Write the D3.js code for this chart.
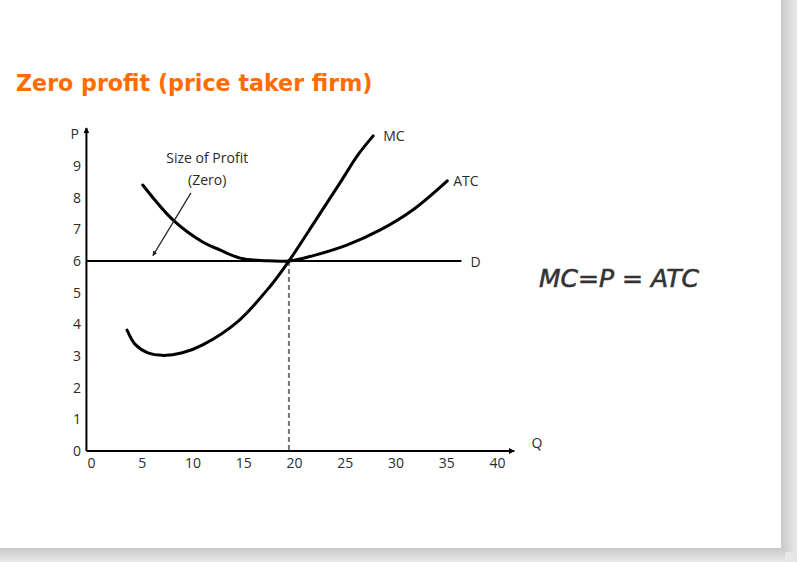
<!DOCTYPE html>
<html>
<head>
<meta charset="utf-8">
<script src="https://cdn.jsdelivr.net/npm/d3@7"></script>
<style>
  body { margin: 0; padding: 0; background: #fff; }
  svg { display: block; }
</style>
</head>
<body>
<div id="chart"></div>
<script>
// chart values
var xTicks = [0, 5, 10, 15, 20, 25, 30, 35, 40];
var yTicks = [0, 1, 2, 3, 4, 5, 6, 7, 8, 9];

var mcQ = [3.55, 4.4, 5.6, 7.0, 9.0, 11.0, 14.4, 17.6, 19.5, 22.0, 24.5, 26.3, 27.8];
var mcP = [3.82, 3.35, 3.1, 3.02, 3.1, 3.35, 4.07, 5.18, 6.0, 7.22, 8.45, 9.35, 9.95];

var atcQ = [5.1, 8.1, 11.0, 12.7, 14.7, 17.1, 19.5, 21.9, 25.2, 28.5, 31.7, 35.1];
var atcP = [8.4, 7.29, 6.6, 6.35, 6.09, 6.01, 6.0, 6.17, 6.5, 6.98, 7.61, 8.53];

var price = 6;
var demandQ = [0, 36.5];
var qStar = 19.5;

var profitText = ['Size of Profit', '(Zero)'];

var width = 797,
    height = 562;

var svg = d3.select('#chart').append('svg')
    .attr('width', width)
    .attr('height', height);

//slide background + shadow
var defs = svg.append('defs');
var gR = defs.append('linearGradient').attr('id', 'shadowR');
gR.append('stop').attr('offset', '0%').attr('stop-color', '#c9c9c9');
gR.append('stop').attr('offset', '100%').attr('stop-color', '#e8e8e8');
var gB = defs.append('linearGradient').attr('id', 'shadowB')
    .attr('x1', 0).attr('y1', 0).attr('x2', 0).attr('y2', 1);
gB.append('stop').attr('offset', '0%').attr('stop-color', '#c9c9c9');
gB.append('stop').attr('offset', '100%').attr('stop-color', '#e8e8e8');

svg.append('rect').attr('width', width).attr('height', height).attr('fill', '#e6e6e6');
svg.append('rect').attr('x', 781).attr('y', 0).attr('width', 16).attr('height', 552).attr('fill', 'url(#shadowR)');
svg.append('rect').attr('x', 0).attr('y', 548).attr('width', 785).attr('height', 14).attr('fill', 'url(#shadowB)');
svg.append('rect').attr('width', 781).attr('height', 548).attr('fill', '#fff');

//title
svg.append('text')
    .attr('x', 16)
    .attr('y', 91)
    .style('font-family', '"DejaVu Sans", Verdana, sans-serif')
    .style('font-weight', 'bold')
    .style('font-size', '22.2px')
    .attr('fill', '#ff6d00')
    .text('Zero profit (price taker firm)');

//scales
var x = d3.scaleLinear().domain([0, 40]).range([91, 497]);
var y = d3.scaleLinear().domain([0, 10]).range([451, 134.3]);

//arrow heads
defs.append('marker')
    .attr('id', 'arrow')
    .attr('viewBox', '0 0 10 10')
    .attr('refX', 9).attr('refY', 5)
    .attr('markerWidth', 6).attr('markerHeight', 6)
    .attr('markerUnits', 'userSpaceOnUse')
    .attr('orient', 'auto')
  .append('path')
    .attr('d', 'M0,0 L10,5 L0,10 z')
    .attr('fill', '#000');

defs.append('marker')
    .attr('id', 'arrowSmall')
    .attr('viewBox', '0 0 10 10')
    .attr('refX', 9).attr('refY', 5)
    .attr('markerWidth', 5).attr('markerHeight', 5)
    .attr('markerUnits', 'userSpaceOnUse')
    .attr('orient', 'auto')
  .append('path')
    .attr('d', 'M0,0 L10,5 L0,10 z')
    .attr('fill', '#222');

var tickFont = '"Open Sans", "Noto Sans", sans-serif';

//x axis
var xAxis = svg.append('g')
    .attr('transform', 'translate(0,' + (y(0) + 3) + ')')
    .call(d3.axisBottom(x).tickValues(xTicks).tickSize(0).tickPadding(4));
xAxis.select('.domain').remove();
xAxis.selectAll('text')
    .style('font-family', tickFont)
    .style('font-size', '14px')
    .attr('fill', '#2b2b2b');

//y axis
var yAxis = svg.append('g')
    .attr('transform', 'translate(81,0)')
    .call(d3.axisLeft(y).tickValues(yTicks).tickSize(0).tickPadding(0));
yAxis.select('.domain').remove();
yAxis.selectAll('text')
    .style('font-family', tickFont)
    .style('font-size', '14px')
    .attr('fill', '#2b2b2b');

//axis lines
svg.append('line')
    .attr('x1', x(-0.45)).attr('y1', y(0))
    .attr('x2', x(41.7)).attr('y2', y(0))
    .attr('stroke', '#000').attr('stroke-width', 2)
    .attr('marker-end', 'url(#arrow)');

svg.append('line')
    .attr('x1', x(-0.45)).attr('y1', y(0))
    .attr('x2', x(-0.45)).attr('y2', y(10.2))
    .attr('stroke', '#000').attr('stroke-width', 2)
    .attr('marker-end', 'url(#arrow)');

svg.append('text')
    .attr('x', x(-1.2)).attr('y', y(10) + 5)
    .attr('text-anchor', 'end')
    .style('font-family', tickFont).style('font-size', '14px')
    .attr('fill', '#2b2b2b')
    .text('P');

svg.append('text')
    .attr('x', x(43.4)).attr('y', y(0.1))
    .style('font-family', tickFont).style('font-size', '14px')
    .attr('fill', '#2b2b2b')
    .text('Q');

//dashed drop line
svg.append('line')
    .attr('x1', x(qStar)).attr('y1', y(price))
    .attr('x2', x(qStar)).attr('y2', y(0))
    .attr('stroke', '#777').attr('stroke-width', 2)
    .attr('stroke-dasharray', '5,3');

//demand (price) line
svg.append('line')
    .attr('x1', x(-0.45)).attr('y1', y(price))
    .attr('x2', x(demandQ[1])).attr('y2', y(price))
    .attr('stroke', '#000').attr('stroke-width', 2);

var line = d3.line()
    .x(function(d) { return x(d[0]); })
    .y(function(d) { return y(d[1]); })
    .curve(d3.curveCatmullRom.alpha(0.5));

var mcData = mcQ.map(function(q, i) { return [q, mcP[i]]; });
var atcData = atcQ.map(function(q, i) { return [q, atcP[i]]; });

svg.append('path')
    .datum(atcData)
    .attr('d', line)
    .attr('fill', 'none')
    .attr('stroke', '#000')
    .attr('stroke-width', 3)
    .attr('stroke-linecap', 'round');

svg.append('path')
    .datum(mcData)
    .attr('d', line)
    .attr('fill', 'none')
    .attr('stroke', '#000')
    .attr('stroke-width', 3)
    .attr('stroke-linecap', 'round');

//curve labels
var labelStyle = function(sel) {
    sel.style('font-family', tickFont).style('font-size', '14px').attr('fill', '#2b2b2b');
};

svg.append('text')
    .attr('x', x(mcQ[mcQ.length - 1]) + 10)
    .attr('y', y(mcP[mcP.length - 1]) + 5)
    .call(labelStyle)
    .text('MC');

svg.append('text')
    .attr('x', x(atcQ[atcQ.length - 1]) + 6)
    .attr('y', y(atcP[atcP.length - 1]) + 5)
    .call(labelStyle)
    .text('ATC');

svg.append('text')
    .attr('x', x(demandQ[1]) + 9)
    .attr('y', y(price) + 6)
    .call(labelStyle)
    .text('D');

//profit annotation
svg.append('line')
    .attr('x1', x(9.85)).attr('y1', y(8.15))
    .attr('x2', x(6.1)).attr('y2', y(6.17))
    .attr('stroke', '#222').attr('stroke-width', 1.2)
    .attr('marker-end', 'url(#arrowSmall)');

svg.selectAll('.profit-label')
    .data(profitText)
  .enter().append('text')
    .attr('class', 'profit-label')
    .attr('x', x(11.45))
    .attr('y', function(d, i) { return y(9.25) + 5 + i * 22; })
    .attr('text-anchor', 'middle')
    .call(labelStyle)
    .text(function(d) { return d; });

//equation
svg.append('text')
    .attr('x', 539)
    .attr('y', 287)
    .style('font-family', '"DejaVu Sans", sans-serif')
    .style('font-style', 'italic')
    .style('font-size', '25px')
    .attr('fill', '#333')
    .attr('stroke', '#333')
    .attr('stroke-width', 0.6)
    .text('MC=P = ATC');
</script>
</body>
</html>
